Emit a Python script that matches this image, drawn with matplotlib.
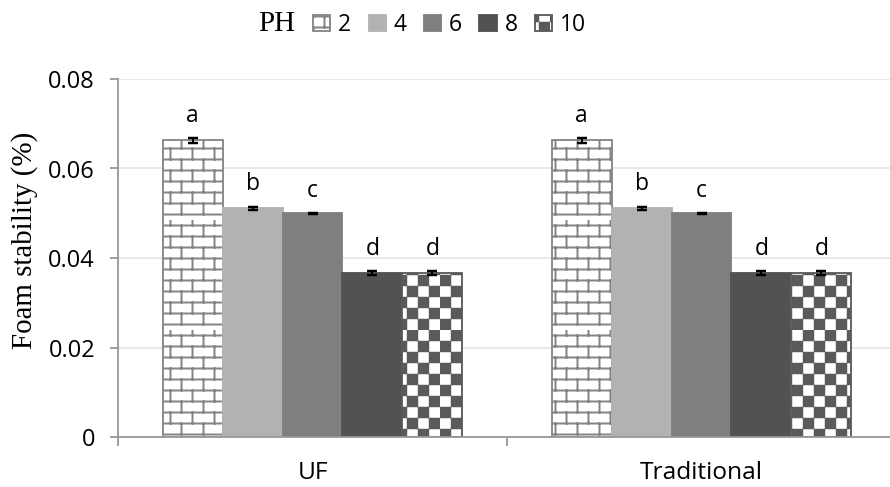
import warnings

import numpy as np
import matplotlib
matplotlib.use("Agg")
import matplotlib.pyplot as plt
from matplotlib import hatch as mhatch
from matplotlib.path import Path

warnings.filterwarnings("ignore")

categories = ["UF", "Traditional"]
ph_levels = ["2", "4", "6", "8", "10"]

ph2 = [0.0663, 0.0663]
ph4 = [0.0511, 0.0511]
ph6 = [0.0500, 0.0500]
ph8 = [0.0366, 0.0366]
ph10 = [0.0367, 0.0367]

err2 = [0.0005, 0.0005]
err4 = [0.0004, 0.0004]
err6 = [0.0001, 0.0001]
err8 = [0.0004, 0.0004]
err10 = [0.0004, 0.0004]

letters = ["a", "b", "c", "d", "d"]

means = [ph2, ph4, ph6, ph8, ph10]
errors = [err2, err4, err6, err8, err10]

yticks = [0, 0.02, 0.04, 0.06, 0.08]
ytick_labels = ["0", "0.02", "0.04", "0.06", "0.08"]


# extra hatch patterns: 'b' = brick wall, 'c' = checkerboard
class BrickHatch(mhatch.HatchPatternBase):
    rows, cols = 10, 5

    def __init__(self, hatch, density):
        on = "b" in hatch
        self.num_vertices = 2 * self.rows * (self.cols + 1) if on else 0

    def set_vertices_and_codes(self, vertices, codes):
        segs = []
        h = 1.0 / self.rows
        for r in range(self.rows):
            y0 = (r + 0.5) * h
            segs.append(((0.0, y0), (1.0, y0)))
            shift = 0.5 * (r % 2)
            for c in range(self.cols):
                x = (c + 0.25 + shift) / self.cols
                segs.append(((x, y0), (x, y0 + h)))
        vertices[:] = np.array(segs).reshape(-1, 2)
        codes[0::2] = Path.MOVETO
        codes[1::2] = Path.LINETO


class CheckerHatch(mhatch.HatchPatternBase):
    n = 10

    def __init__(self, hatch, density):
        on = "c" in hatch
        self.num_vertices = 5 * (self.n * self.n // 2) if on else 0

    def set_vertices_and_codes(self, vertices, codes):
        step = 1.0 / self.n
        pad = 0.007
        pts = []
        for i in range(self.n):
            for j in range(self.n):
                if (i + j) % 2 == 0:
                    x0, y0 = i * step + pad, j * step + pad
                    x1, y1 = (i + 1) * step - pad, (j + 1) * step - pad
                    pts += [(x0, y0), (x1, y0), (x1, y1), (x0, y1), (x0, y0)]
        vertices[:] = np.array(pts)
        codes[:] = np.tile([Path.MOVETO, Path.LINETO, Path.LINETO,
                            Path.LINETO, Path.CLOSEPOLY], len(pts) // 5)


mhatch._hatch_types.extend([BrickHatch, CheckerHatch])

plt.rcParams["font.family"] = ["Open Sans", "DejaVu Sans"]
plt.rcParams["hatch.linewidth"] = 1.3

faces = ["white", "#b2b2b2", "#7f7f7f", "#525252", "white"]
edges = ["#858585", "#b2b2b2", "#7f7f7f", "#525252", "#5a5a5a"]
hatches = ["b", None, None, None, "c"]

DPI = 110
fig = plt.figure(figsize=(890 / DPI, 487 / DPI), dpi=DPI)
ax = fig.add_axes([118 / 890, 50 / 487, 778 / 890, 358 / 487])

x = np.arange(len(categories))
w = 0.1542
handles = []
for i, (vals, errs) in enumerate(zip(means, errors)):
    pos = x + (i - 2) * w
    bars = ax.bar(pos, vals, w, color=faces[i], edgecolor=edges[i],
                  hatch=hatches[i], linewidth=1.2, label=ph_levels[i], zorder=2)
    ax.errorbar(pos, vals, yerr=errs, fmt="none", ecolor="black",
                elinewidth=1.3, capsize=3, capthick=1.6, zorder=3)
    for xp, v, e in zip(pos, vals, errs):
        ax.annotate(letters[i], (xp, v + e), xytext=(0, 10.5),
                    textcoords="offset points", ha="center", va="baseline",
                    fontsize=15)
    handles.append(bars)

ax.set_xlim(-0.5, 1.5)
ax.set_ylim(0, 0.08)
ax.set_yticks(yticks, ytick_labels)
ax.set_xticks(x, categories)
ax.set_xticks([-0.5, 0.5, 1.5], minor=True)

ax.yaxis.grid(True, color="#e6e6e6", linewidth=1.2)
ax.set_axisbelow(True)
for side in ("top", "right"):
    ax.spines[side].set_visible(False)
for side in ("left", "bottom"):
    ax.spines[side].set_color("#999999")
    ax.spines[side].set_linewidth(1.2)

ax.tick_params(axis="y", length=5, width=1.2, color="#999999", pad=10,
               labelsize=15.5)
ax.tick_params(axis="x", which="major", length=0, pad=16, labelsize=16)
ax.tick_params(axis="x", which="minor", length=6, width=1.2, color="#999999")

ax.set_ylabel("Foam stability (%)", family="Liberation Serif", fontsize=19,
              va="center")
ax.yaxis.set_label_coords(-0.12, 0.55)

fig.text(295 / 890, 1 - 31 / 487, "PH", family="Liberation Serif",
         fontsize=19, ha="right", va="baseline")
fig.legend(handles=handles, labels=ph_levels, ncol=5, frameon=False,
           loc="center left", bbox_to_anchor=(313 / 890, 1 - 25 / 487),
           fontsize=15, handlelength=0.75, handleheight=0.72,
           handletextpad=0.35, columnspacing=0.75, borderpad=0,
           borderaxespad=0)

fig.savefig("out.png", dpi=DPI)
